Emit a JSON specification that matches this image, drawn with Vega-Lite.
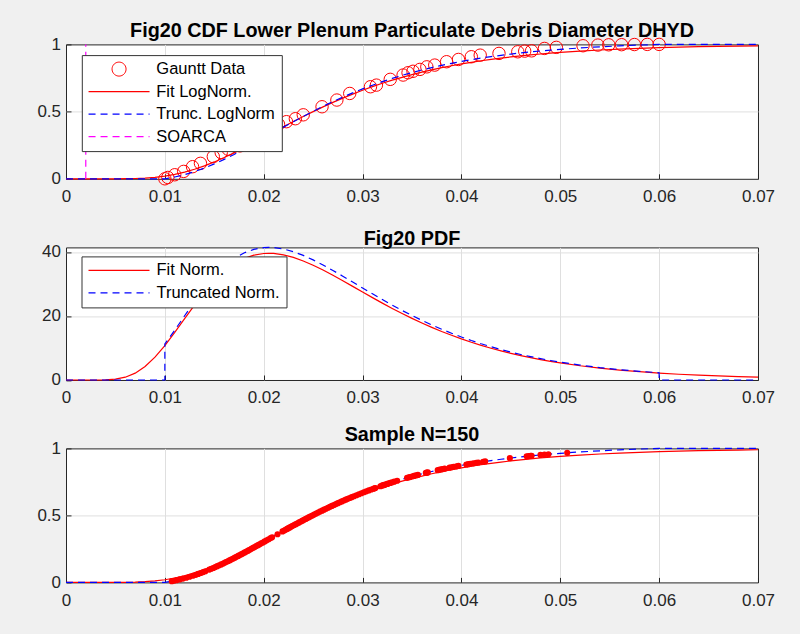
{
"$schema": "https://vega.github.io/schema/vega-lite/v6.json",
"background": "#f0f0f0",
"padding": {"left": 36, "top": 20.4, "right": 26, "bottom": 25},
"bounds": "flush",
"spacing": 68,
"datasets": {
"cdf": [
{"x":0,"fit":0,"trunc":0},{"x":0.001,"fit":0,"trunc":0},{"x":0.002,"fit":0,"trunc":0},{"x":0.003,"fit":0,"trunc":0},{"x":0.004,"fit":0.00002,"trunc":0},{"x":0.005,"fit":0.00015,"trunc":0},{"x":0.006,"fit":0.00067,"trunc":0},{"x":0.007,"fit":0.00211,"trunc":0},{"x":0.008,"fit":0.00522,"trunc":0},{"x":0.009,"fit":0.01084,"trunc":0},{"x":0.01,"fit":0.01975,"trunc":0},{"x":0.011,"fit":0.03252,"trunc":0.01336},{"x":0.012,"fit":0.04958,"trunc":0.03121},{"x":0.013,"fit":0.07078,"trunc":0.0534},{"x":0.014,"fit":0.0963,"trunc":0.0801},{"x":0.015,"fit":0.1255,"trunc":0.1107},{"x":0.016,"fit":0.1579,"trunc":0.1446},{"x":0.017,"fit":0.193,"trunc":0.1813},{"x":0.018,"fit":0.2303,"trunc":0.2203},{"x":0.019,"fit":0.2686,"trunc":0.2604},{"x":0.02,"fit":0.3078,"trunc":0.3014},{"x":0.021,"fit":0.3475,"trunc":0.3429},{"x":0.022,"fit":0.3871,"trunc":0.3844},{"x":0.023,"fit":0.4258,"trunc":0.4249},{"x":0.024,"fit":0.4633,"trunc":0.4641},{"x":0.025,"fit":0.5,"trunc":0.5025},{"x":0.026,"fit":0.5351,"trunc":0.5392},{"x":0.027,"fit":0.5687,"trunc":0.5744},{"x":0.028,"fit":0.6006,"trunc":0.6078},{"x":0.029,"fit":0.6304,"trunc":0.639},{"x":0.03,"fit":0.6591,"trunc":0.669},{"x":0.031,"fit":0.6854,"trunc":0.6965},{"x":0.032,"fit":0.7106,"trunc":0.7229},{"x":0.033,"fit":0.7337,"trunc":0.747},{"x":0.034,"fit":0.7552,"trunc":0.7695},{"x":0.035,"fit":0.7752,"trunc":0.7905},{"x":0.036,"fit":0.7936,"trunc":0.8097},{"x":0.037,"fit":0.8108,"trunc":0.8277},{"x":0.038,"fit":0.8267,"trunc":0.8444},{"x":0.039,"fit":0.8411,"trunc":0.8594},{"x":0.04,"fit":0.8545,"trunc":0.8734},{"x":0.041,"fit":0.8669,"trunc":0.8864},{"x":0.042,"fit":0.8782,"trunc":0.8982},{"x":0.043,"fit":0.8886,"trunc":0.9091},{"x":0.044,"fit":0.898,"trunc":0.919},{"x":0.045,"fit":0.9068,"trunc":0.9282},{"x":0.046,"fit":0.9147,"trunc":0.9364},{"x":0.047,"fit":0.9219,"trunc":0.944},{"x":0.048,"fit":0.9287,"trunc":0.9511},{"x":0.049,"fit":0.9347,"trunc":0.9574},{"x":0.05,"fit":0.9404,"trunc":0.9633},{"x":0.052,"fit":0.9501,"trunc":0.9735},{"x":0.054,"fit":0.9583,"trunc":0.982},{"x":0.056,"fit":0.965,"trunc":0.9891},{"x":0.058,"fit":0.9707,"trunc":0.995},{"x":0.06,"fit":0.9754,"trunc":1},{"x":0.062,"fit":0.9794,"trunc":1},{"x":0.064,"fit":0.9827,"trunc":1},{"x":0.066,"fit":0.9854,"trunc":1},{"x":0.068,"fit":0.9877,"trunc":1},{"x":0.07,"fit":0.9897,"trunc":1}
],
"pdf": [
{"x":0,"v":0},{"x":0.001,"v":0},{"x":0.002,"v":0},{"x":0.003,"v":0.0035},{"x":0.004,"v":0.047},{"x":0.005,"v":0.259},{"x":0.006,"v":0.874},{"x":0.007,"v":2.138},{"x":0.008,"v":4.22},{"x":0.009,"v":7.14},{"x":0.01,"v":10.77},{"x":0.011,"v":14.86},{"x":0.012,"v":19.19},{"x":0.013,"v":23.41},{"x":0.014,"v":27.4},{"x":0.015,"v":30.92},{"x":0.016,"v":33.88},{"x":0.017,"v":36.22},{"x":0.018,"v":37.93},{"x":0.019,"v":39.01},{"x":0.02,"v":39.52},{"x":0.0205,"v":39.59},{"x":0.021,"v":39.54},{"x":0.022,"v":39.11},{"x":0.023,"v":38.3},{"x":0.024,"v":37.2},{"x":0.025,"v":35.86},{"x":0.026,"v":34.35},{"x":0.027,"v":32.71},{"x":0.028,"v":31},{"x":0.029,"v":29.25},{"x":0.03,"v":27.48},{"x":0.031,"v":25.74},{"x":0.032,"v":24.02},{"x":0.033,"v":22.36},{"x":0.034,"v":20.77},{"x":0.035,"v":19.25},{"x":0.036,"v":17.81},{"x":0.037,"v":16.44},{"x":0.038,"v":15.15},{"x":0.039,"v":13.96},{"x":0.04,"v":12.83},{"x":0.041,"v":11.78},{"x":0.042,"v":10.81},{"x":0.043,"v":9.92},{"x":0.044,"v":9.1},{"x":0.045,"v":8.33},{"x":0.046,"v":7.62},{"x":0.047,"v":6.98},{"x":0.048,"v":6.38},{"x":0.049,"v":5.83},{"x":0.05,"v":5.33},{"x":0.052,"v":4.45},{"x":0.054,"v":3.71},{"x":0.056,"v":3.1},{"x":0.058,"v":2.59},{"x":0.06,"v":2.16},{"x":0.062,"v":1.8},{"x":0.064,"v":1.51},{"x":0.066,"v":1.26},{"x":0.068,"v":1.05},{"x":0.07,"v":0.88}
],
"tpdf": [
{"i":1,"x":0,"v":0},{"i":2,"x":0.01,"v":0},{"i":3,"x":0.01,"v":11.27},{"i":4,"x":0.011,"v":15.55},{"i":5,"x":0.012,"v":20.08},{"i":6,"x":0.013,"v":24.5},{"i":7,"x":0.014,"v":28.67},{"i":8,"x":0.015,"v":32.35},{"i":9,"x":0.016,"v":35.45},{"i":10,"x":0.017,"v":37.9},{"i":11,"x":0.018,"v":39.69},{"i":12,"x":0.019,"v":40.82},{"i":13,"x":0.02,"v":41.35},{"i":14,"x":0.0205,"v":41.43},{"i":15,"x":0.021,"v":41.37},{"i":16,"x":0.022,"v":40.92},{"i":17,"x":0.023,"v":40.08},{"i":18,"x":0.024,"v":38.93},{"i":19,"x":0.025,"v":37.52},{"i":20,"x":0.026,"v":35.94},{"i":21,"x":0.027,"v":34.23},{"i":22,"x":0.028,"v":32.44},{"i":23,"x":0.029,"v":30.61},{"i":24,"x":0.03,"v":28.75},{"i":25,"x":0.031,"v":26.93},{"i":26,"x":0.032,"v":25.13},{"i":27,"x":0.033,"v":23.4},{"i":28,"x":0.034,"v":21.73},{"i":29,"x":0.035,"v":20.14},{"i":30,"x":0.036,"v":18.64},{"i":31,"x":0.037,"v":17.2},{"i":32,"x":0.038,"v":15.85},{"i":33,"x":0.039,"v":14.61},{"i":34,"x":0.04,"v":13.43},{"i":35,"x":0.041,"v":12.33},{"i":36,"x":0.042,"v":11.31},{"i":37,"x":0.043,"v":10.38},{"i":38,"x":0.044,"v":9.52},{"i":39,"x":0.045,"v":8.72},{"i":40,"x":0.046,"v":7.97},{"i":41,"x":0.047,"v":7.3},{"i":42,"x":0.048,"v":6.68},{"i":43,"x":0.049,"v":6.1},{"i":44,"x":0.05,"v":5.58},{"i":45,"x":0.052,"v":4.66},{"i":46,"x":0.054,"v":3.88},{"i":47,"x":0.056,"v":3.24},{"i":48,"x":0.058,"v":2.71},{"i":49,"x":0.06,"v":2.26},{"i":50,"x":0.06,"v":0},{"i":51,"x":0.07,"v":0}
],
"gauntt": [
{"x":0.01,"y":0},{"x":0.0103,"y":0.01},{"x":0.011,"y":0.03},{"x":0.0119,"y":0.055},{"x":0.0128,"y":0.09},{"x":0.0136,"y":0.115},{"x":0.0149,"y":0.165},{"x":0.0157,"y":0.195},{"x":0.0164,"y":0.22},{"x":0.0176,"y":0.245},{"x":0.0186,"y":0.285},{"x":0.0198,"y":0.33},{"x":0.0207,"y":0.37},{"x":0.0215,"y":0.405},{"x":0.0223,"y":0.425},{"x":0.0232,"y":0.447},{"x":0.024,"y":0.476},{"x":0.0259,"y":0.536},{"x":0.0274,"y":0.586},{"x":0.0287,"y":0.635},{"x":0.0308,"y":0.685},{"x":0.0314,"y":0.697},{"x":0.0328,"y":0.74},{"x":0.0341,"y":0.772},{"x":0.0346,"y":0.789},{"x":0.0351,"y":0.8},{"x":0.0358,"y":0.814},{"x":0.0365,"y":0.833},{"x":0.0373,"y":0.846},{"x":0.0385,"y":0.871},{"x":0.0397,"y":0.888},{"x":0.041,"y":0.908},{"x":0.0419,"y":0.92},{"x":0.0438,"y":0.933},{"x":0.0457,"y":0.945},{"x":0.0464,"y":0.95},{"x":0.0471,"y":0.952},{"x":0.0484,"y":0.97},{"x":0.0496,"y":0.978},{"x":0.0523,"y":0.99},{"x":0.0538,"y":0.995},{"x":0.0549,"y":0.997},{"x":0.0562,"y":0.998},{"x":0.0575,"y":0.999},{"x":0.0588,"y":1},{"x":0.06,"y":1}
],
"soarca": [{"x":0.002,"y":0},{"x":0.002,"y":1}],
"sample": [
{"x":0.0107,"y":0.0094},{"x":0.0109,"y":0.012},{"x":0.01117,"y":0.0163},{"x":0.0115,"y":0.0223},{"x":0.01183,"y":0.0282},{"x":0.01217,"y":0.0349},{"x":0.0125,"y":0.0423},{"x":0.01283,"y":0.0497},{"x":0.01313,"y":0.0567},{"x":0.01338,"y":0.0634},{"x":0.01363,"y":0.0701},{"x":0.01388,"y":0.0768},{"x":0.0141,"y":0.0832},{"x":0.0145,"y":0.0954},{"x":0.0147,"y":0.1015},{"x":0.0149,"y":0.1076},{"x":0.0151,"y":0.1141},{"x":0.0153,"y":0.1209},{"x":0.0155,"y":0.1277},{"x":0.0157,"y":0.1344},{"x":0.0159,"y":0.1412},{"x":0.01608,"y":0.1477},{"x":0.01625,"y":0.1538},{"x":0.01642,"y":0.1599},{"x":0.01658,"y":0.166},{"x":0.01675,"y":0.1721},{"x":0.01692,"y":0.1782},{"x":0.01708,"y":0.1846},{"x":0.01725,"y":0.1911},{"x":0.01742,"y":0.1976},{"x":0.01758,"y":0.2041},{"x":0.01775,"y":0.2106},{"x":0.01792,"y":0.2171},{"x":0.01808,"y":0.2236},{"x":0.01825,"y":0.2303},{"x":0.01842,"y":0.237},{"x":0.01858,"y":0.2437},{"x":0.01875,"y":0.2504},{"x":0.01892,"y":0.2571},{"x":0.01908,"y":0.2638},{"x":0.01925,"y":0.2707},{"x":0.01942,"y":0.2775},{"x":0.01958,"y":0.2843},{"x":0.01975,"y":0.2912},{"x":0.01992,"y":0.298},{"x":0.0201,"y":0.3056},{"x":0.0203,"y":0.3139},{"x":0.0205,"y":0.3222},{"x":0.0207,"y":0.3305},{"x":0.02085,"y":0.3367},{"x":0.0214,"y":0.3595},{"x":0.0219,"y":0.3803},{"x":0.02207,"y":0.3873},{"x":0.02221,"y":0.3931},{"x":0.02236,"y":0.3989},{"x":0.0225,"y":0.4047},{"x":0.02264,"y":0.4104},{"x":0.02279,"y":0.4162},{"x":0.02293,"y":0.422},{"x":0.02308,"y":0.4282},{"x":0.02325,"y":0.4347},{"x":0.02342,"y":0.4412},{"x":0.02358,"y":0.4478},{"x":0.02375,"y":0.4543},{"x":0.02392,"y":0.4608},{"x":0.02408,"y":0.4673},{"x":0.02425,"y":0.4737},{"x":0.02442,"y":0.4801},{"x":0.02458,"y":0.4865},{"x":0.02475,"y":0.4929},{"x":0.02492,"y":0.4993},{"x":0.0251,"y":0.5062},{"x":0.0253,"y":0.5135},{"x":0.0255,"y":0.5209},{"x":0.0257,"y":0.5282},{"x":0.0259,"y":0.5355},{"x":0.0261,"y":0.5427},{"x":0.0263,"y":0.5498},{"x":0.0265,"y":0.5568},{"x":0.0267,"y":0.5638},{"x":0.0269,"y":0.5709},{"x":0.0271,"y":0.5777},{"x":0.0273,"y":0.5844},{"x":0.0275,"y":0.5911},{"x":0.0277,"y":0.5978},{"x":0.0279,"y":0.6045},{"x":0.0281,"y":0.6109},{"x":0.0283,"y":0.6172},{"x":0.0285,"y":0.6234},{"x":0.0287,"y":0.6296},{"x":0.0289,"y":0.6359},{"x":0.02913,"y":0.6428},{"x":0.02938,"y":0.6503},{"x":0.02963,"y":0.6578},{"x":0.02988,"y":0.6653},{"x":0.03013,"y":0.6724},{"x":0.03038,"y":0.6793},{"x":0.03063,"y":0.6862},{"x":0.03088,"y":0.6931},{"x":0.0311,"y":0.6991},{"x":0.0312,"y":0.7018},{"x":0.0313,"y":0.7044},{"x":0.0318,"y":0.7176},{"x":0.03195,"y":0.7216},{"x":0.0321,"y":0.7253},{"x":0.0322,"y":0.7277},{"x":0.0323,"y":0.7301},{"x":0.0325,"y":0.735},{"x":0.0326,"y":0.7374},{"x":0.0328,"y":0.7422},{"x":0.033,"y":0.747},{"x":0.0332,"y":0.7515},{"x":0.0335,"y":0.7583},{"x":0.0345,"y":0.78},{"x":0.0347,"y":0.7842},{"x":0.0348,"y":0.7863},{"x":0.035,"y":0.7905},{"x":0.0352,"y":0.7943},{"x":0.0354,"y":0.7982},{"x":0.0356,"y":0.802},{"x":0.0364,"y":0.8169},{"x":0.0365,"y":0.8187},{"x":0.0366,"y":0.8205},{"x":0.0376,"y":0.8377},{"x":0.0378,"y":0.8411},{"x":0.038,"y":0.8444},{"x":0.0381,"y":0.8459},{"x":0.0383,"y":0.8489},{"x":0.0388,"y":0.8564},{"x":0.039,"y":0.8594},{"x":0.0392,"y":0.8622},{"x":0.0395,"y":0.8664},{"x":0.0397,"y":0.8692},{"x":0.0405,"y":0.8799},{"x":0.0407,"y":0.8825},{"x":0.0409,"y":0.8851},{"x":0.0412,"y":0.8888},{"x":0.0415,"y":0.8923},{"x":0.0417,"y":0.8947},{"x":0.0422,"y":0.9004},{"x":0.0424,"y":0.9026},{"x":0.0449,"y":0.9273},{"x":0.0466,"y":0.941},{"x":0.0468,"y":0.9425},{"x":0.047,"y":0.944},{"x":0.0471,"y":0.9447},{"x":0.048,"y":0.9511},{"x":0.0484,"y":0.9536},{"x":0.0488,"y":0.9561},{"x":0.0507,"y":0.9669}
]
},
"vconcat": [
{
"title": "Fig20 CDF Lower Plenum Particulate Debris Diameter DHYD",
"width": 692, "height": 134.4,
"layer": [
{"data": {"name": "gauntt"},
 "mark": {"type": "point", "shape": "circle", "filled": false, "size": 154, "strokeWidth": 1, "opacity": 1},
 "encoding": {
  "x": {"field": "x", "type": "quantitative", "scale": {"domain": [0, 0.07], "nice": false, "zero": false},
        "axis": {"values": [0, 0.01, 0.02, 0.03, 0.04, 0.05, 0.06, 0.07], "format": ".2~f",
                 "gridOpacity": {"condition": {"test": "datum.value === 0 || datum.value === 0.07", "value": 0}, "value": 1}}},
  "y": {"field": "y", "type": "quantitative", "scale": {"domain": [0, 1], "nice": false, "zero": false},
        "axis": {"values": [0, 0.5, 1], "format": ".1~f",
                 "gridOpacity": {"condition": {"test": "datum.value === 0 || datum.value === 1", "value": 0}, "value": 1}}},
  "color": {"datum": "Gauntt Data", "type": "nominal",
    "scale": {"domain": ["Gauntt Data", "Fit LogNorm.", "Trunc. LogNorm", "SOARCA"], "range": ["#ff0000", "#ff0000", "#0000ff", "#ff00ff"]},
    "legend": {"orient": "none", "legendX": 15.8, "legendY": 10.7, "symbolSize": 3721, "symbolType": "stroke", "symbolOffset": 23, "labelOffset": 29,
      "encode": {"symbols": {"update": {
        "shape": {"signal": "datum.value === 'Gauntt Data' ? 'M-0.2295,0A0.2295,0.2295,0,1,0,0.2295,0A0.2295,0.2295,0,1,0,-0.2295,0Z' : 'stroke'"},
        "size": {"value": 3721},
        "strokeDash": {"signal": "datum.value === 'Trunc. LogNorm' || datum.value === 'SOARCA' ? [7,5] : [1,0]"},
        "strokeWidth": {"signal": "datum.value === 'Gauntt Data' ? 1 : 1.2"},
        "fill": {"value": "transparent"},
        "opacity": {"value": 1}
      }}}}}
 }},
{"data": {"name": "cdf"},
 "mark": {"type": "line", "strokeWidth": 1.2},
 "encoding": {
  "x": {"field": "x", "type": "quantitative"},
  "y": {"field": "fit", "type": "quantitative"},
  "color": {"datum": "Fit LogNorm.", "type": "nominal",
    "legend": {"orient": "none", "legendX": 15.8, "legendY": 10.7, "symbolSize": 3721, "symbolType": "stroke", "symbolOffset": 23, "labelOffset": 29,
      "encode": {"symbols": {"update": {
        "shape": {"signal": "datum.value === 'Gauntt Data' ? 'M-0.2295,0A0.2295,0.2295,0,1,0,0.2295,0A0.2295,0.2295,0,1,0,-0.2295,0Z' : 'stroke'"},
        "size": {"value": 3721},
        "strokeDash": {"signal": "datum.value === 'Trunc. LogNorm' || datum.value === 'SOARCA' ? [7,5] : [1,0]"},
        "strokeWidth": {"signal": "datum.value === 'Gauntt Data' ? 1 : 1.2"},
        "fill": {"value": "transparent"},
        "opacity": {"value": 1}
      }}}}}
 }},
{"data": {"name": "cdf"},
 "mark": {"type": "line", "strokeWidth": 1.2, "strokeDash": [7, 5]},
 "encoding": {
  "x": {"field": "x", "type": "quantitative"},
  "y": {"field": "trunc", "type": "quantitative"},
  "color": {"datum": "Trunc. LogNorm", "type": "nominal",
    "legend": {"orient": "none", "legendX": 15.8, "legendY": 10.7, "symbolSize": 3721, "symbolType": "stroke", "symbolOffset": 23, "labelOffset": 29,
      "encode": {"symbols": {"update": {
        "shape": {"signal": "datum.value === 'Gauntt Data' ? 'M-0.2295,0A0.2295,0.2295,0,1,0,0.2295,0A0.2295,0.2295,0,1,0,-0.2295,0Z' : 'stroke'"},
        "size": {"value": 3721},
        "strokeDash": {"signal": "datum.value === 'Trunc. LogNorm' || datum.value === 'SOARCA' ? [7,5] : [1,0]"},
        "strokeWidth": {"signal": "datum.value === 'Gauntt Data' ? 1 : 1.2"},
        "fill": {"value": "transparent"},
        "opacity": {"value": 1}
      }}}}}
 }},
{"data": {"name": "soarca"},
 "mark": {"type": "line", "strokeWidth": 1.2, "strokeDash": [7, 5]},
 "encoding": {
  "x": {"field": "x", "type": "quantitative"},
  "y": {"field": "y", "type": "quantitative"},
  "color": {"datum": "SOARCA", "type": "nominal",
    "legend": {"orient": "none", "legendX": 15.8, "legendY": 10.7, "symbolSize": 3721, "symbolType": "stroke", "symbolOffset": 23, "labelOffset": 29,
      "encode": {"symbols": {"update": {
        "shape": {"signal": "datum.value === 'Gauntt Data' ? 'M-0.2295,0A0.2295,0.2295,0,1,0,0.2295,0A0.2295,0.2295,0,1,0,-0.2295,0Z' : 'stroke'"},
        "size": {"value": 3721},
        "strokeDash": {"signal": "datum.value === 'Trunc. LogNorm' || datum.value === 'SOARCA' ? [7,5] : [1,0]"},
        "strokeWidth": {"signal": "datum.value === 'Gauntt Data' ? 1 : 1.2"},
        "fill": {"value": "transparent"},
        "opacity": {"value": 1}
      }}}}}
 }}
]
},
{
"title": "Fig20 PDF",
"width": 692, "height": 132.6,
"layer": [
{"data": {"name": "pdf"},
 "mark": {"type": "line", "strokeWidth": 1.2},
 "encoding": {
  "x": {"field": "x", "type": "quantitative", "scale": {"domain": [0, 0.07], "nice": false, "zero": false},
        "axis": {"values": [0, 0.01, 0.02, 0.03, 0.04, 0.05, 0.06, 0.07], "format": ".2~f",
                 "gridOpacity": {"condition": {"test": "datum.value === 0 || datum.value === 0.07", "value": 0}, "value": 1}}},
  "y": {"field": "v", "type": "quantitative", "scale": {"domain": [0, 41.43], "nice": false, "zero": false},
        "axis": {"values": [0, 20, 40], "format": "d",
                 "gridOpacity": {"condition": {"test": "datum.value === 0", "value": 0}, "value": 1}}},
  "color": {"datum": "Fit Norm.", "type": "nominal",
    "scale": {"domain": ["Fit Norm.", "Truncated Norm."], "range": ["#ff0000", "#0000ff"]},
    "legend": {"orient": "none", "legendX": 15.5, "legendY": 9, "symbolSize": 3721, "symbolType": "stroke",
      "encode": {"symbols": {"update": {
        "shape": {"value": "stroke"},
        "size": {"value": 3721},
        "strokeDash": {"signal": "datum.value === 'Truncated Norm.' ? [7,5] : [1,0]"},
        "strokeWidth": {"value": 1.2},
        "fill": {"value": "transparent"},
        "opacity": {"value": 1}
      }}}}}
 }},
{"data": {"name": "tpdf"},
 "mark": {"type": "line", "strokeWidth": 1.2, "strokeDash": [7, 5]},
 "encoding": {
  "x": {"field": "x", "type": "quantitative"},
  "y": {"field": "v", "type": "quantitative"},
  "order": {"field": "i", "type": "quantitative"},
  "color": {"datum": "Truncated Norm.", "type": "nominal",
    "legend": {"orient": "none", "legendX": 15.5, "legendY": 9, "symbolSize": 3721, "symbolType": "stroke",
      "encode": {"symbols": {"update": {
        "shape": {"value": "stroke"},
        "size": {"value": 3721},
        "strokeDash": {"signal": "datum.value === 'Truncated Norm.' ? [7,5] : [1,0]"},
        "strokeWidth": {"value": 1.2},
        "fill": {"value": "transparent"},
        "opacity": {"value": 1}
      }}}}}
 }}
]
},
{
"title": "Sample N=150",
"width": 692, "height": 134,
"layer": [
{"data": {"name": "cdf"},
 "mark": {"type": "line", "strokeWidth": 1.2, "color": "#ff0000"},
 "encoding": {
  "x": {"field": "x", "type": "quantitative", "scale": {"domain": [0, 0.07], "nice": false, "zero": false},
        "axis": {"values": [0, 0.01, 0.02, 0.03, 0.04, 0.05, 0.06, 0.07], "format": ".2~f",
                 "gridOpacity": {"condition": {"test": "datum.value === 0 || datum.value === 0.07", "value": 0}, "value": 1}}},
  "y": {"field": "fit", "type": "quantitative", "scale": {"domain": [0, 1], "nice": false, "zero": false},
        "axis": {"values": [0, 0.5, 1], "format": ".1~f",
                 "gridOpacity": {"condition": {"test": "datum.value === 0 || datum.value === 1", "value": 0}, "value": 1}}}
 }},
{"data": {"name": "cdf"},
 "mark": {"type": "line", "strokeWidth": 1.2, "strokeDash": [7, 5], "color": "#0000ff"},
 "encoding": {
  "x": {"field": "x", "type": "quantitative"},
  "y": {"field": "trunc", "type": "quantitative"}
 }},
{"data": {"name": "sample"},
 "mark": {"type": "circle", "size": 38, "color": "#ff0000", "opacity": 1},
 "encoding": {
  "x": {"field": "x", "type": "quantitative"},
  "y": {"field": "y", "type": "quantitative"}
 }}
]
}
],
"resolve": {"scale": {"color": "independent", "x": "independent", "y": "independent"}, "legend": {"color": "independent"}},
"config": {
 "font": "Liberation Sans",
 "view": {"stroke": "#262626", "strokeWidth": 1, "fill": "#ffffff"},
 "axis": {"title": null, "labelFont": "Liberation Sans", "labelFontSize": 17, "labelColor": "#262626",
          "gridColor": "#dfdfdf", "gridWidth": 1, "domain": false, "tickColor": "#262626", "tickSize": -5,
          "labelFlush": false, "labelOverlap": false, "labelBound": false},
 "axisX": {"labelPadding": 15},
 "axisY": {"labelPadding": 10.5},
 "title": {"font": "Liberation Sans", "fontSize": 19.8, "fontWeight": "bold", "color": "#000000",
           "offset": -5.7, "baseline": "alphabetic", "frame": "group", "anchor": "middle"},
 "legend": {"title": null, "labelFont": "Liberation Sans", "labelFontSize": 16.5, "labelColor": "#000000",
            "fillColor": "#ffffff", "strokeColor": "#333333", "padding": 6, "symbolSize": 3721, "clipHeight": 16,
            "rowPadding": 5.5, "labelOffset": 6, "symbolOffset": 0, "symbolStrokeWidth": 1.2,
            "symbolType": "stroke", "labelLimit": 0}
}
}
